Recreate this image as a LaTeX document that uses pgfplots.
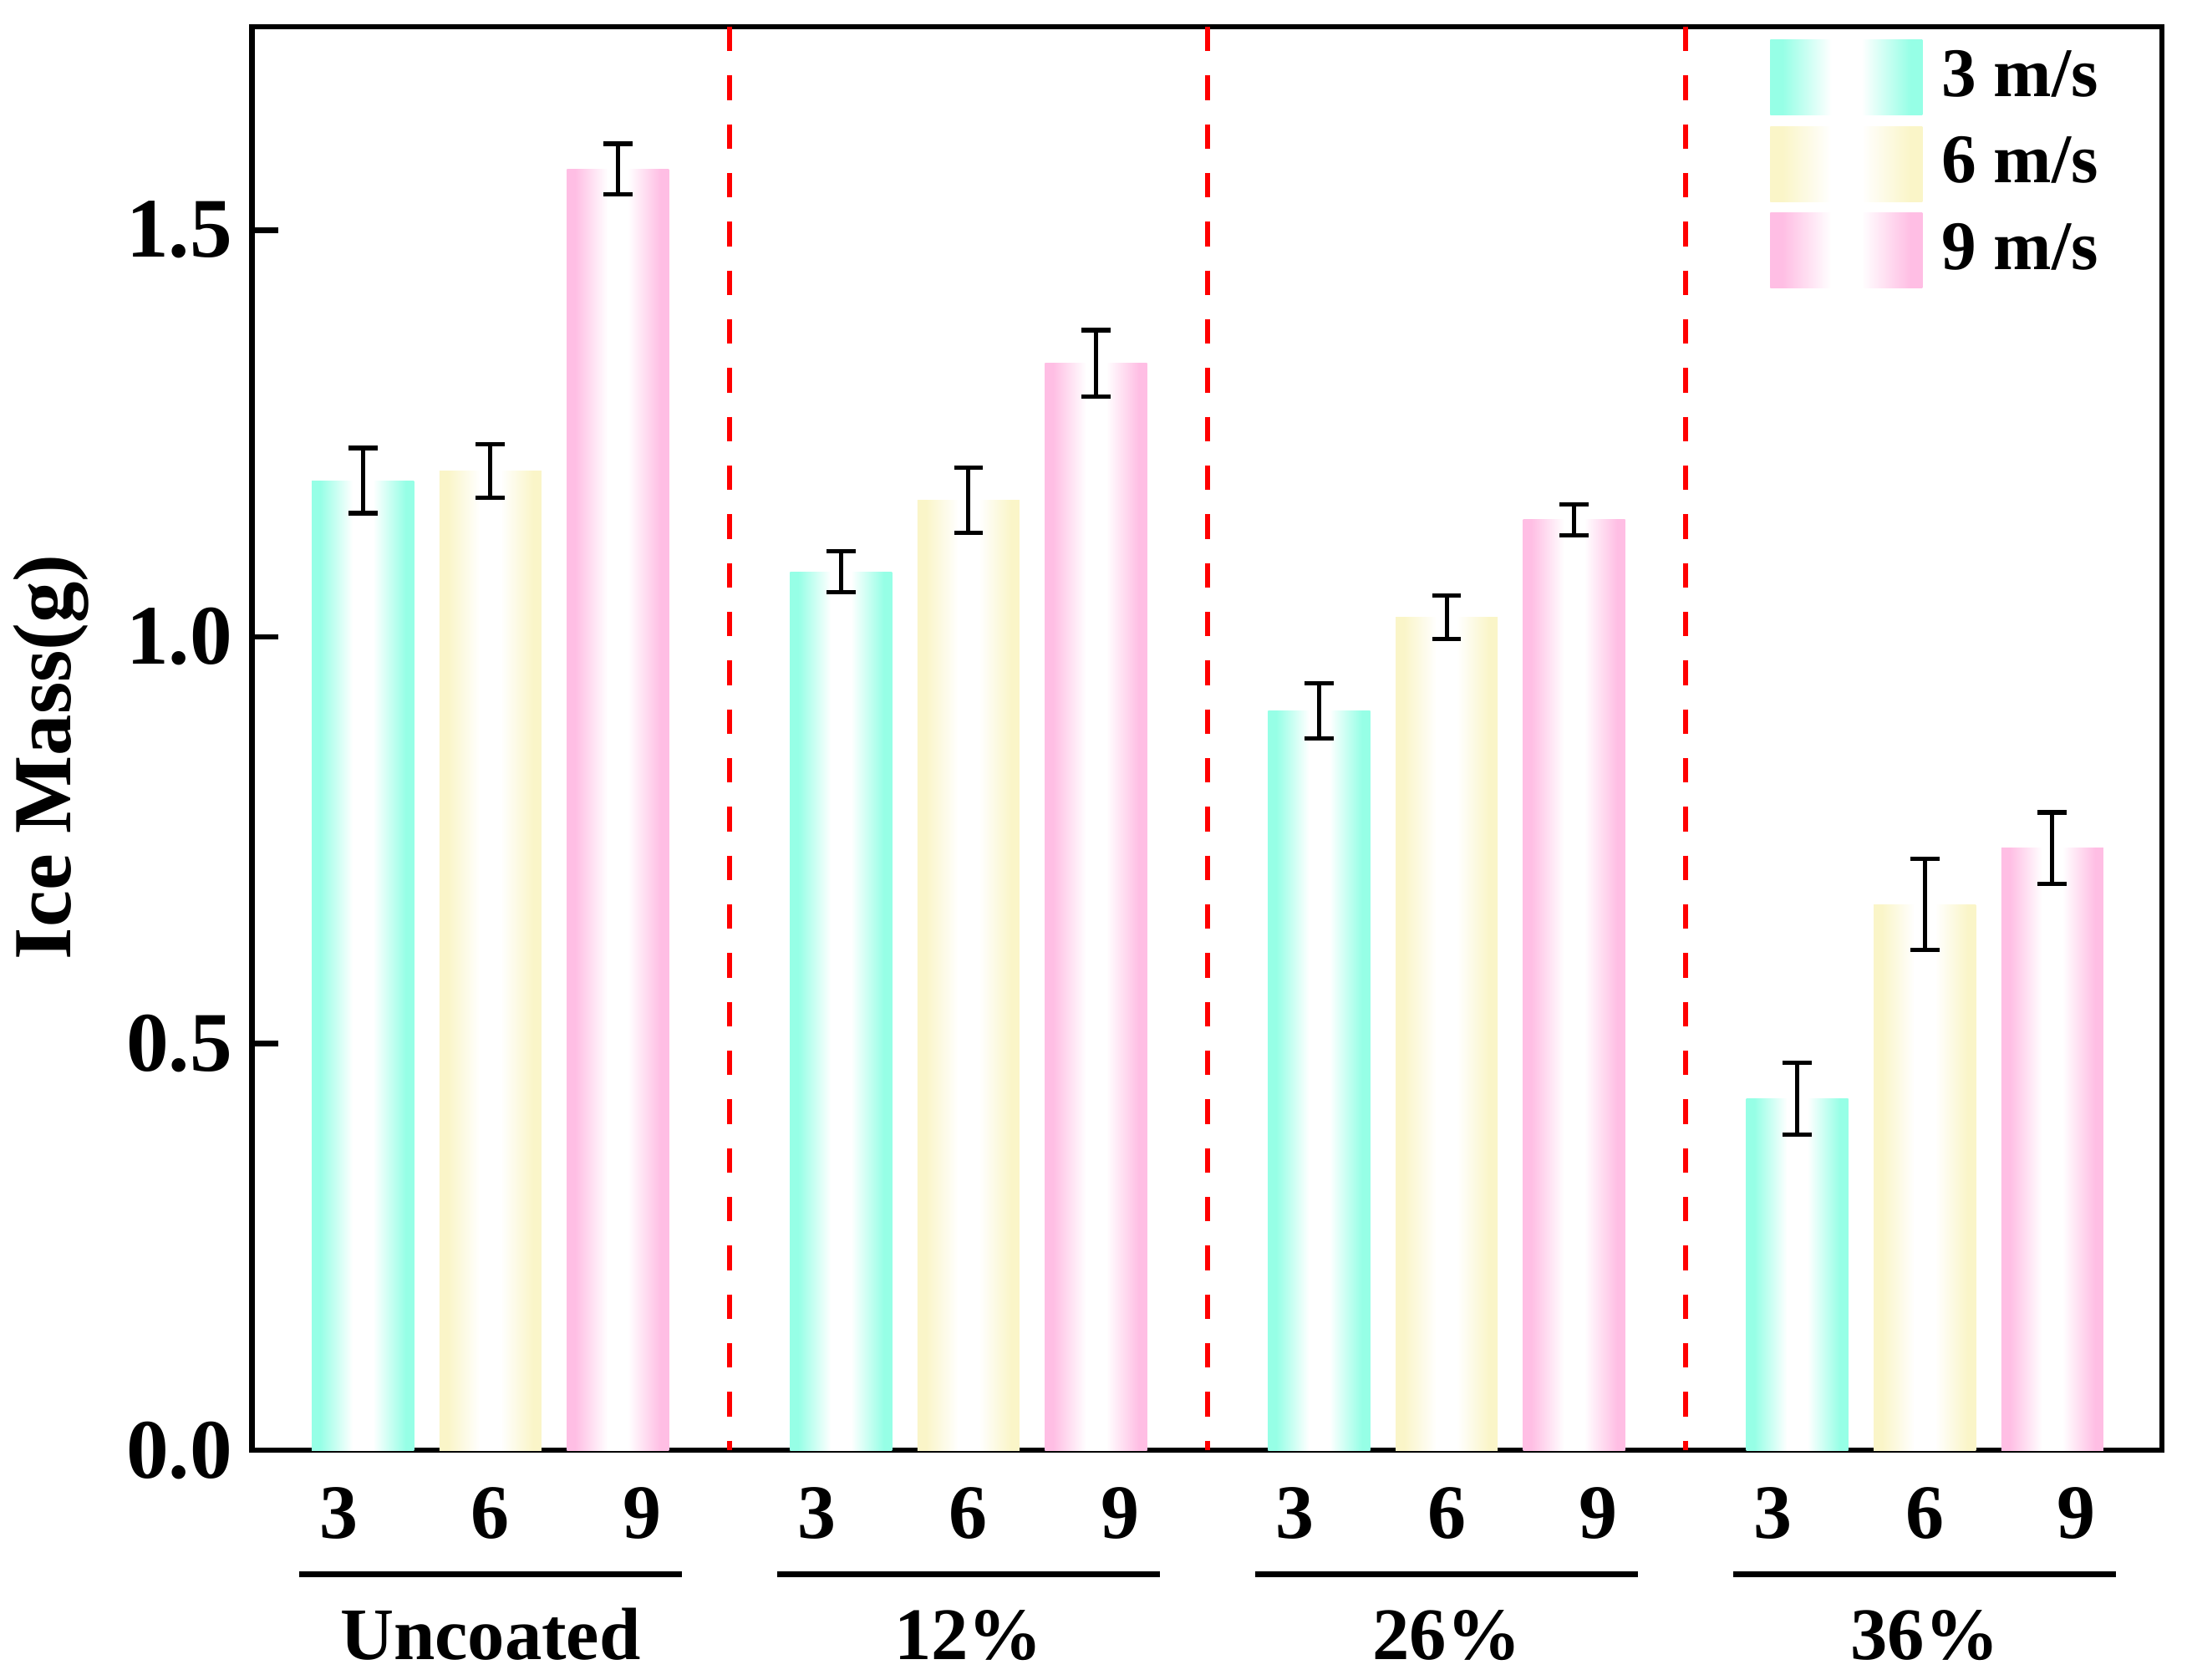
\documentclass[border=0pt]{standalone}
\usepackage{fontspec}
\setmainfont{Liberation Serif}
\usepackage{pgfplots}
\pgfplotsset{compat=1.18}
\definecolor{cA}{RGB}{150,255,230}
\definecolor{yA}{RGB}{250,245,200}
\definecolor{pA}{RGB}{255,190,228}
\pgfdeclarehorizontalshading{shcyan}{100bp}{color(0bp)=(cA); color(29bp)=(cA); color(45bp)=(white); color(55bp)=(white); color(71bp)=(cA); color(100bp)=(cA)}
\pgfdeclarehorizontalshading{shyel}{100bp}{color(0bp)=(yA); color(29bp)=(yA); color(45bp)=(white); color(55bp)=(white); color(71bp)=(yA); color(100bp)=(yA)}
\pgfdeclarehorizontalshading{shpink}{100bp}{color(0bp)=(pA); color(29bp)=(pA); color(45bp)=(white); color(55bp)=(white); color(71bp)=(pA); color(100bp)=(pA)}
\pgfplotsset{
  barC/.style={ybar, bar shift=0pt, draw=none, shade, shading=shcyan},
  barY/.style={ybar, bar shift=0pt, draw=none, shade, shading=shyel},
  barP/.style={ybar, bar shift=0pt, draw=none, shade, shading=shpink},
}
\begin{document}
\begin{tikzpicture}
\begin{axis}[
  scale only axis, width=342.8pt, height=255.45pt,
  xmin=-0.87, xmax=14.11, ymin=0, ymax=1.75,
  clip=false,
  axis line style={line width=1pt},
  tick align=inside, ytick pos=left,
  ytick={0,0.5,1,1.5},
  major tick length=4.7pt,
  ytick style={line width=1pt, black},
  xtick style={draw=none},
  xtick={-0.19,1,2.19,3.56,4.75,5.94,7.31,8.5,9.69,11.06,12.25,13.44},
  xticklabels={3,6,9,3,6,9,3,6,9,3,6,9},
  /pgf/number format/assume math mode=true,
  y tick label style={/pgf/number format/fixed, /pgf/number format/fixed zerofill, /pgf/number format/precision=1, font=\fontsize{15.2}{18}\selectfont\bfseries},
  xticklabel style={font=\fontsize{13.8}{16}\selectfont\bfseries, yshift=-3.1pt},
  ylabel={Ice Mass(g)},
  ylabel style={font=\fontsize{14.8}{17}\selectfont\bfseries, at={(axis description cs:-0.1053,0.487)}, anchor=center},
  bar width=0.8,
  legend style={at={(0.795,0.9906)}, anchor=north west, draw=none, fill=none, inner sep=0pt, outer sep=0pt, row sep=2pt, column sep=3.45pt, font=\fontsize{12.5}{15}\selectfont\bfseries, nodes={inner sep=0pt}},
  legend cell align=left,
]
% 3 m/s
\addplot[barC, legend image code/.code={\shade[shading=shcyan] (0pt,-6.75pt) rectangle (27.3pt,6.75pt);}]
  coordinates {(0,1.192)};
\addlegendentry{3 m/s}
\addplot[barY, legend image code/.code={\shade[shading=shyel] (0pt,-6.75pt) rectangle (27.3pt,6.75pt);}]
  coordinates {(1,1.204)};
\addlegendentry{6 m/s}
\addplot[barP, legend image code/.code={\shade[shading=shpink] (0pt,-6.75pt) rectangle (27.3pt,6.75pt);}]
  coordinates {(2,1.575)};
\addlegendentry{9 m/s}
\addplot[barC, forget plot] coordinates {(3.75,1.080)};
\addplot[barC, forget plot] coordinates {(7.5,0.909)};
\addplot[barC, forget plot] coordinates {(11.25,0.432)};
\addplot[barY, forget plot] coordinates {(4.75,1.168)};
\addplot[barY, forget plot] coordinates {(8.5,1.024)};
\addplot[barY, forget plot] coordinates {(12.25,0.671)};
\addplot[barP, forget plot] coordinates {(5.75,1.336)};
\addplot[barP, forget plot] coordinates {(9.5,1.144)};
\addplot[barP, forget plot] coordinates {(13.25,0.740)};
% error bars
\addplot[draw=none, mark=none, forget plot,
  error bars/.cd, y dir=both, y explicit,
  error bar style={draw=black, solid, line width=0.75pt},
  error mark options={rotate=90, mark size=2.6pt, line width=0.8pt, draw=black}]
  coordinates {
  (0,1.192) +- (0,0.040) (3.75,1.080) +- (0,0.025) (7.5,0.909) +- (0,0.034) (11.25,0.432) +- (0,0.044)
  (1,1.204) +- (0,0.033) (4.75,1.168) +- (0,0.040) (8.5,1.024) +- (0,0.027) (12.25,0.671) +- (0,0.056)
  (2,1.575) +- (0,0.031) (5.75,1.336) +- (0,0.041) (9.5,1.144) +- (0,0.019) (13.25,0.740) +- (0,0.044)};
% separators
\addplot[red, line width=0.85pt, dash pattern=on 4.4pt off 4.35pt, forget plot] coordinates {(2.875,1.75) (2.875,0)};
\addplot[red, line width=0.85pt, dash pattern=on 4.4pt off 4.35pt, forget plot] coordinates {(6.625,1.75) (6.625,0)};
\addplot[red, line width=0.85pt, dash pattern=on 4.4pt off 4.35pt, forget plot] coordinates {(10.375,1.75) (10.375,0)};
% group lines and labels
\foreach \c in {1, 4.75, 8.5, 12.25}{
  \edef\tmp{\noexpand\draw[line width=1.05pt] ([yshift=-22.2pt]axis cs:\c-1.5,0) -- ([yshift=-22.2pt]axis cs:\c+1.5,0);}\tmp
}
\node[anchor=base, font=\fontsize{13.3}{16}\selectfont\bfseries] at ([yshift=-37.5pt]axis cs:1,0) {Uncoated};
\node[anchor=base, font=\fontsize{13.3}{16}\selectfont\bfseries] at ([yshift=-37.5pt]axis cs:4.75,0) {12\%};
\node[anchor=base, font=\fontsize{13.3}{16}\selectfont\bfseries] at ([yshift=-37.5pt]axis cs:8.5,0) {26\%};
\node[anchor=base, font=\fontsize{13.3}{16}\selectfont\bfseries] at ([yshift=-37.5pt]axis cs:12.25,0) {36\%};
\coordinate (O) at (rel axis cs:0,0);
\coordinate (T) at (rel axis cs:1,1);
\end{axis}
\pgfresetboundingbox
\path[use as bounding box] ([shift={(-45.225pt,-41.1pt)}]O) rectangle ([shift={(4.5pt,4.8pt)}]T);
\end{tikzpicture}
\end{document}
